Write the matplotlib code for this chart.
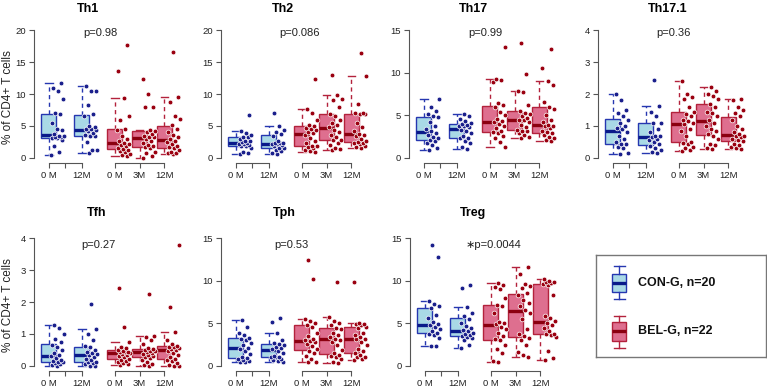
import matplotlib
matplotlib.use("Agg")
import matplotlib.pyplot as plt
import numpy as np
from matplotlib.patches import Rectangle

plt.rcParams['font.family'] = ['Liberation Sans', 'DejaVu Sans']

W, H = 767, 389

# ---------------- data ----------------
panel_names = ["Th1", "Th2", "Th17", "Th17.1", "Tfh", "Tph", "Treg"]
p_labels = ["p=0.98", "p=0.086", "p=0.99", "p=0.36", "p=0.27", "p=0.53", "\u2217p=0.0044"]
group_labels = ["0 M", "12M", "0 M", "3M", "12M"]
legend_labels = ["CON-G, n=20", "BEL-G, n=22"]
ymax = [20, 20, 15, 4, 4, 15, 15]
ystep = [5, 5, 5, 1, 1, 5, 5]

th1 = [
    [0.5, 0.9, 1.9, 2.8, 3.1, 3.1, 3.2, 3.3, 3.4, 3.5, 3.7, 4.3, 4.6, 5.4, 6.9, 7.0, 9.2, 10.5, 11.0, 11.7],
    [0.8, 1.2, 1.3, 2.5, 3.4, 3.4, 3.6, 3.9, 4.2, 4.3, 4.5, 4.6, 4.8, 5.0, 6.6, 6.8, 8.3, 10.4, 10.5, 11.3],
    [0.25, 0.4, 0.6, 0.9, 1.1, 1.3, 1.4, 1.6, 1.8, 2.0, 2.2, 2.4, 2.6, 2.9, 3.4, 4.4, 4.6, 6.0, 6.6, 9.3, 13.6, 17.7],
    [0.0, 0.3, 0.7, 1.0, 1.5, 1.7, 1.8, 2.0, 2.3, 2.6, 3.0, 3.2, 3.3, 3.5, 3.7, 4.0, 4.2, 4.3, 7.9, 8.0, 10.0, 12.4],
    [0.6, 0.7, 0.8, 1.0, 1.3, 1.5, 1.7, 1.9, 2.2, 2.5, 2.7, 3.0, 3.3, 3.6, 4.0, 4.6, 5.1, 6.1, 6.6, 8.7, 9.6, 16.6],
]
th2 = [
    [0.6, 0.8, 1.0, 1.5, 1.8, 1.8, 2.0, 2.1, 2.2, 2.3, 2.5, 2.6, 2.7, 2.9, 3.2, 3.3, 3.6, 3.9, 4.2, 6.7],
    [0.6, 0.8, 1.1, 1.3, 1.5, 1.6, 1.9, 2.0, 2.1, 2.2, 2.3, 2.4, 2.4, 2.6, 3.5, 3.7, 4.0, 4.4, 5.0, 7.1],
    [0.9, 1.1, 1.3, 1.5, 1.7, 1.8, 1.9, 2.3, 2.7, 3.1, 3.6, 3.9, 4.1, 4.3, 4.5, 4.7, 5.0, 5.2, 6.0, 7.0, 7.7, 12.4],
    [1.25, 1.4, 1.6, 2.0, 2.4, 2.8, 2.85, 3.2, 3.6, 4.0, 4.4, 4.9, 5.2, 5.5, 6.0, 6.5, 6.9, 8.0, 9.0, 9.2, 9.85, 12.9],
    [1.6, 1.7, 1.9, 2.1, 2.3, 2.4, 2.5, 2.7, 3.0, 3.4, 3.6, 3.8, 4.2, 4.8, 5.5, 6.8, 6.9, 6.95, 7.0, 8.4, 12.8, 16.4],
]
th17 = [
    [0.9, 1.2, 1.5, 1.8, 2.0, 2.1, 2.3, 2.5, 2.7, 2.9, 3.1, 3.4, 3.8, 4.2, 4.8, 4.9, 5.2, 5.5, 6.0, 6.9],
    [1.1, 1.3, 1.7, 2.0, 2.3, 2.3, 2.6, 2.9, 3.1, 3.3, 3.6, 3.7, 3.8, 3.9, 4.0, 4.1, 4.3, 4.6, 4.9, 5.1],
    [1.3, 1.9, 2.3, 2.6, 2.9, 3.0, 3.2, 3.5, 3.8, 4.0, 4.2, 4.3, 4.6, 5.0, 5.4, 6.0, 6.2, 6.5, 8.9, 9.1, 9.3, 13.0],
    [2.3, 2.5, 2.7, 2.9, 3.1, 3.2, 3.3, 3.6, 3.9, 4.2, 4.4, 4.5, 4.7, 4.9, 5.1, 5.3, 5.5, 6.2, 7.7, 7.8, 9.8, 13.5],
    [2.0, 2.1, 2.3, 2.5, 2.7, 2.9, 3.0, 3.2, 3.5, 3.7, 3.8, 3.9, 4.2, 4.5, 5.0, 5.7, 6.0, 6.6, 8.5, 9.0, 10.6, 12.8],
]
th171 = [
    [0.12, 0.15, 0.3, 0.35, 0.45, 0.45, 0.5, 0.6, 0.7, 0.8, 0.9, 0.95, 1.0, 1.1, 1.2, 1.3, 1.4, 1.5, 1.8, 2.0],
    [0.16, 0.2, 0.25, 0.3, 0.38, 0.42, 0.5, 0.55, 0.6, 0.64, 0.68, 0.7, 0.8, 0.9, 1.1, 1.1, 1.3, 1.45, 1.63, 2.45],
    [0.22, 0.25, 0.3, 0.35, 0.45, 0.48, 0.5, 0.7, 0.85, 0.9, 1.05, 1.1, 1.15, 1.2, 1.3, 1.38, 1.45, 1.6, 1.85, 1.9, 2.0, 2.41],
    [0.27, 0.3, 0.4, 0.45, 0.6, 0.7, 0.75, 0.85, 0.9, 1.0, 1.1, 1.2, 1.3, 1.4, 1.45, 1.6, 1.7, 1.85, 1.95, 2.0, 2.1, 2.22],
    [0.27, 0.3, 0.35, 0.4, 0.45, 0.52, 0.55, 0.6, 0.65, 0.68, 0.7, 0.75, 0.8, 0.9, 1.0, 1.2, 1.3, 1.4, 1.5, 1.6, 1.8, 1.84],
]
tfh = [
    [0.0, 0.02, 0.05, 0.08, 0.12, 0.12, 0.15, 0.2, 0.25, 0.3, 0.35, 0.4, 0.5, 0.6, 0.65, 0.75, 0.85, 1.0, 1.2, 1.28],
    [0.0, 0.0, 0.05, 0.1, 0.12, 0.13, 0.18, 0.22, 0.28, 0.33, 0.38, 0.4, 0.45, 0.5, 0.6, 0.62, 0.8, 1.0, 1.15, 1.94],
    [0.02, 0.05, 0.08, 0.12, 0.16, 0.2, 0.22, 0.28, 0.3, 0.35, 0.38, 0.4, 0.42, 0.44, 0.45, 0.46, 0.5, 0.55, 0.6, 0.75, 1.23, 2.43],
    [0.0, 0.02, 0.06, 0.12, 0.2, 0.26, 0.28, 0.3, 0.35, 0.38, 0.4, 0.44, 0.46, 0.48, 0.5, 0.52, 0.55, 0.7, 0.8, 0.9, 0.94, 2.25],
    [0.0, 0.0, 0.03, 0.08, 0.15, 0.2, 0.22, 0.28, 0.33, 0.4, 0.47, 0.51, 0.53, 0.56, 0.58, 0.6, 0.62, 0.7, 0.8, 1.07, 1.83, 3.8],
]
tph = [
    [0.45, 0.5, 0.6, 0.7, 0.8, 0.9, 1.1, 1.4, 1.8, 2.0, 2.1, 2.4, 2.7, 3.0, 3.2, 3.3, 3.6, 3.9, 4.6, 5.4],
    [0.45, 0.6, 0.7, 0.8, 1.0, 1.0, 1.1, 1.2, 1.5, 1.7, 2.0, 2.1, 2.2, 2.4, 2.6, 2.7, 3.0, 3.9, 5.2, 5.6],
    [0.4, 0.5, 0.8, 1.2, 1.5, 1.8, 2.0, 2.3, 2.6, 2.8, 2.9, 3.0, 3.2, 3.5, 3.9, 4.6, 4.8, 5.0, 5.3, 5.5, 10.2, 12.4],
    [0.3, 0.5, 0.8, 1.0, 1.2, 1.3, 1.5, 1.9, 2.4, 2.8, 3.0, 3.2, 3.4, 3.6, 3.9, 4.3, 4.5, 4.8, 5.0, 5.3, 5.7, 9.9],
    [0.65, 0.8, 1.0, 1.1, 1.3, 1.5, 1.7, 2.0, 2.5, 2.8, 3.1, 3.2, 3.4, 3.6, 3.9, 4.4, 4.6, 4.8, 4.9, 4.95, 5.0, 9.8],
]
treg = [
    [2.3, 2.3, 3.3, 3.6, 3.8, 3.9, 4.1, 4.3, 4.6, 4.8, 4.9, 5.1, 5.6, 6.0, 6.8, 7.0, 7.3, 7.6, 12.8, 14.2],
    [2.1, 2.5, 3.0, 3.3, 3.4, 3.5, 3.6, 3.7, 3.9, 4.1, 4.2, 4.4, 4.7, 5.0, 5.5, 5.9, 6.2, 6.9, 9.1, 9.5],
    [0.5, 0.6, 1.5, 2.0, 2.5, 3.0, 3.1, 3.5, 3.9, 4.3, 4.6, 4.9, 5.0, 5.2, 6.2, 7.0, 7.2, 8.0, 9.0, 9.3, 9.5, 9.75],
    [1.1, 1.3, 1.6, 2.5, 3.0, 3.3, 3.5, 3.8, 4.3, 5.5, 6.2, 6.6, 7.0, 7.4, 7.7, 8.3, 8.5, 9.2, 9.4, 9.6, 10.8, 11.6],
    [0.67, 0.9, 1.8, 3.4, 3.6, 3.7, 3.8, 4.1, 4.4, 4.8, 5.0, 5.25, 5.6, 5.9, 8.3, 9.5, 9.6, 9.7, 9.8, 9.9, 10.0, 10.15],
]
panel_data = [th1, th2, th17, th171, tfh, tph, treg]

# ---------------- layout / style ----------------
positions = [1, 2, 3, 3.75, 4.5]
tick_pos = [1, 1.5, 2, 3, 3.75, 4.5]
tick_lab = ["0 M", "", "12M", "0 M", "3M", "12M"]
XL = (0.55, 5.1)
PXU = 33.0  # px per x unit

panel_left_px = [34, 221, 409, 598, 34, 221, 410]
panel_row = [0, 0, 0, 0, 1, 1, 1]
row_top = [25, 233]
row_bot = [163, 371]
title_x_px = [88, 283, 473, 668, 97, 284, 473]
title_y_px = [9, 9, 9, 9, 213, 213, 213]
p_x_px = [100, 300, 485, 673, 98, 291, 493]
p_y_px = [33, 33, 33, 33, 245, 245, 245]

con_fill, con_edge, con_med, con_dot = "#a9d9e6", "#2637b0", "#0a1a8a", "#1a1f8c"
bel_fill, bel_edge, bel_med, bel_dot = "#de6f8f", "#b3223c", "#8b0010", "#9a0010"
fills = [con_fill, con_fill, bel_fill, bel_fill, bel_fill]
edges = [con_edge, con_edge, bel_edge, bel_edge, bel_edge]
meds = [con_med, con_med, bel_med, bel_med, bel_med]
dots = [con_dot, con_dot, bel_dot, bel_dot, bel_dot]
axis_col = "#555555"

fig = plt.figure(figsize=(W / 100, H / 100), dpi=100)


def fx(x):
    return x / W


def fy(y):
    return 1 - y / H


width_px = (XL[1] - XL[0]) * PXU
for k, name in enumerate(panel_names):
    r = panel_row[k]
    left = panel_left_px[k]
    ax = fig.add_axes([fx(left), fy(row_bot[r]), width_px / W, (row_bot[r] - row_top[r]) / H])
    ax.patch.set_alpha(0)
    data = panel_data[k]
    bp = ax.boxplot(data, positions=positions, widths=0.46, patch_artist=True,
                    showfliers=False, whis=1.5, capwidths=0.23, manage_ticks=False)
    for i in range(5):
        b = bp['boxes'][i]
        b.set_facecolor(fills[i]); b.set_edgecolor(edges[i]); b.set_linewidth(1.0)
        for w in bp['whiskers'][2 * i:2 * i + 2]:
            w.set_color(edges[i]); w.set_linestyle((0, (3, 2.5))); w.set_linewidth(1.0)
        for c in bp['caps'][2 * i:2 * i + 2]:
            c.set_color(edges[i]); c.set_linewidth(1.0)
        m = bp['medians'][i]
        m.set_color(meds[i]); m.set_linewidth(2.4); m.set_solid_capstyle('butt')
        vals = np.asarray(data[i])
        n = len(vals)
        u = (np.arange(n) * 0.6180339887 + 0.37 * i + 0.11 * k) % 1.0
        xs = positions[i] + 0.07 + 0.40 * u
        ax.plot(xs, vals, 'o', ms=3.4, mfc=dots[i], mec='white', mew=0.5,
                zorder=4, clip_on=False)

    ym = ymax[k]
    ax.set_xlim(*XL)
    ax.set_ylim(-0.04 * ym, 1.04 * ym)
    ax.set_yticks(np.arange(0, ym + 1e-9, ystep[k]))
    ax.set_yticklabels([f"{int(v)}" for v in np.arange(0, ym + 1e-9, ystep[k])])
    ax.set_xticks(tick_pos)
    ax.set_xticklabels(tick_lab)
    for s in ['top', 'right', 'bottom']:
        ax.spines[s].set_visible(False)
    ax.spines['left'].set_bounds(0, ym)
    ax.spines['left'].set_color(axis_col)
    ax.spines['left'].set_linewidth(0.8)
    ax.tick_params(axis='both', direction='out', length=3.4, width=0.8,
                   color=axis_col, labelsize=6.8, pad=2.5, labelcolor='#222222')
    tr = ax.get_xaxis_transform()
    ax.plot([1, 2], [0, 0], transform=tr, color=axis_col, lw=0.8, clip_on=False)
    ax.plot([3, 4.5], [0, 0], transform=tr, color=axis_col, lw=0.8, clip_on=False)

    fig.text(fx(title_x_px[k]), fy(title_y_px[k]), name, ha='center', va='center',
             fontsize=9, fontweight='bold')
    fig.text(fx(p_x_px[k]), fy(p_y_px[k]), p_labels[k], ha='center', va='center',
             fontsize=8, color='#222222')

for r in range(2):
    fig.text(fx(8), fy((row_top[r] + row_bot[r]) / 2 + 3), "% of CD4+ T cells",
             rotation=90, ha='center', va='center', fontsize=8.5, color='#222222')

# ---------------- legend ----------------
lax = fig.add_axes([fx(596), fy(357), (766 - 596) / W, (357 - 255) / H])
lax.set_xlim(596, 766)
lax.set_ylim(357, 255)
lax.set_xticks([]); lax.set_yticks([])
for s in lax.spines.values():
    s.set_color('#777777'); s.set_linewidth(1.0)

icons = [
    dict(cx=619, wlo=266, blo=274, med=283, bhi=292, whi=299, fill=con_fill, edge=con_edge, medc=con_med),
    dict(cx=619, wlo=316, blo=322, med=331, bhi=341, whi=348, fill=bel_fill, edge=bel_edge, medc=bel_med),
]
for j, ic in enumerate(icons):
    bw, cw = 14, 11
    lax.plot([ic['cx'], ic['cx']], [ic['wlo'], ic['blo']], color=ic['edge'], lw=1.0)
    lax.plot([ic['cx'], ic['cx']], [ic['bhi'], ic['whi']], color=ic['edge'], lw=1.0)
    lax.plot([ic['cx'] - cw / 2, ic['cx'] + cw / 2], [ic['wlo'], ic['wlo']], color=ic['edge'], lw=1.0)
    lax.plot([ic['cx'] - cw / 2, ic['cx'] + cw / 2], [ic['whi'], ic['whi']], color=ic['edge'], lw=1.0)
    lax.add_patch(Rectangle((ic['cx'] - bw / 2, ic['blo']), bw, ic['bhi'] - ic['blo'],
                            facecolor=ic['fill'], edgecolor=ic['edge'], lw=1.0))
    lax.plot([ic['cx'] - bw / 2, ic['cx'] + bw / 2], [ic['med'], ic['med']], color=ic['medc'], lw=2.4,
             solid_capstyle='butt')
    lax.text(638, ic['med'], legend_labels[j], ha='left', va='center', fontsize=9,
             fontweight='bold', color='#111111')

fig.savefig("out.png", dpi=100)
